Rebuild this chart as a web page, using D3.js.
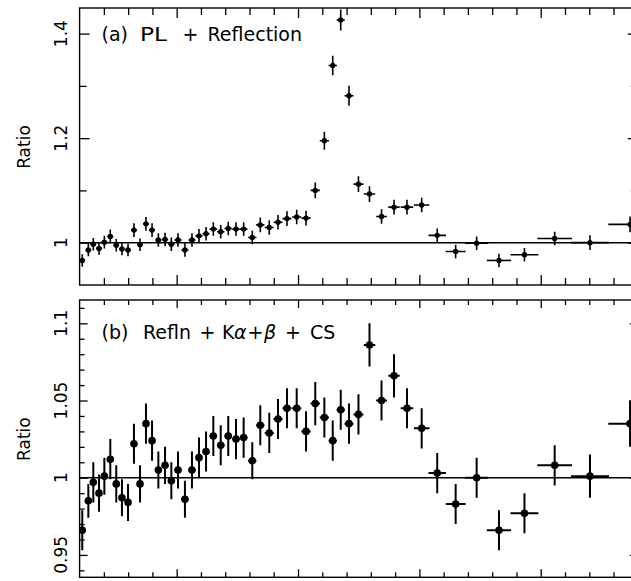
<!DOCTYPE html>
<html>
<head>
<meta charset="utf-8">
<script src="https://cdn.jsdelivr.net/npm/d3@7"></script>
<style>
  body { margin: 0; background: #fff; }
  svg { display: block; }
  text { font-family: "DejaVu Sans", "Liberation Sans", Arial, sans-serif; fill: #000; }
</style>
</head>
<body>
<svg id="chart" width="631" height="581"></svg>
<script>
// Bin centres (keV) and bin half-widths (keV)
const energy = [4.222, 4.272, 4.313, 4.360, 4.404, 4.453, 4.502, 4.549, 4.599, 4.648,
  4.698, 4.747, 4.797, 4.849, 4.904, 4.956, 5.011, 5.068, 5.126, 5.184,
  5.242, 5.302, 5.363, 5.425, 5.489, 5.552, 5.623, 5.689, 5.763, 5.835,
  5.909, 5.989, 6.066, 6.142, 6.217, 6.286, 6.352, 6.420, 6.498, 6.589,
  6.688, 6.791, 6.898, 7.019, 7.147, 7.299, 7.472, 7.656, 7.866, 8.115,
  8.406, 8.736];
const halfWidth = [0.024, 0.024, 0.024, 0.024, 0.024, 0.024, 0.024, 0.024, 0.024, 0.024,
  0.024, 0.024, 0.024, 0.026, 0.026, 0.026, 0.029, 0.029, 0.029, 0.029,
  0.029, 0.031, 0.031, 0.031, 0.031, 0.031, 0.034, 0.034, 0.037, 0.037,
  0.037, 0.038, 0.038, 0.038, 0.038, 0.034, 0.034, 0.037, 0.041, 0.047,
  0.044, 0.047, 0.052, 0.064, 0.072, 0.082, 0.095, 0.100, 0.115, 0.143,
  0.157, 0.179];

// (a) data / power law + reflection
const ratioA = [0.966, 0.986, 0.997, 0.989, 1.001, 1.012, 0.995, 0.988, 0.986, 1.024,
  0.996, 1.036, 1.024, 1.005, 1.006, 0.997, 1.005, 0.986, 1.005, 1.013,
  1.017, 1.026, 1.021, 1.027, 1.026, 1.026, 1.010, 1.034, 1.029, 1.039,
  1.046, 1.049, 1.047, 1.100, 1.195, 1.339, 1.426, 1.281, 1.112, 1.093,
  1.050, 1.068, 1.068, 1.072, 1.014, 0.983, 0.999, 0.966, 0.977, 1.008,
  1.000, 1.035];
const errA = [0.012, 0.012, 0.012, 0.012, 0.012, 0.013, 0.012, 0.012, 0.012, 0.013,
  0.012, 0.013, 0.013, 0.013, 0.013, 0.013, 0.013, 0.013, 0.013, 0.013,
  0.013, 0.013, 0.013, 0.013, 0.013, 0.013, 0.013, 0.014, 0.014, 0.014,
  0.014, 0.014, 0.014, 0.015, 0.017, 0.0185, 0.020, 0.019, 0.015, 0.015,
  0.014, 0.014, 0.014, 0.014, 0.013, 0.013, 0.013, 0.013, 0.013, 0.013,
  0.014, 0.015];

// (b) data / reflection + Fe K alpha/beta + Compton shoulder
const ratioB = [0.966, 0.985, 0.997, 0.990, 1.001, 1.012, 0.996, 0.987, 0.984, 1.022,
  0.996, 1.035, 1.024, 1.005, 1.008, 0.998, 1.005, 0.986, 1.005, 1.013,
  1.017, 1.027, 1.021, 1.027, 1.025, 1.026, 1.011, 1.034, 1.029, 1.038,
  1.045, 1.045, 1.030, 1.048, 1.039, 1.024, 1.044, 1.035, 1.041, 1.086,
  1.050, 1.066, 1.045, 1.032, 1.003, 0.983, 1.000, 0.966, 0.977, 1.008,
  1.001, 1.035];
const errB = [0.013, 0.011, 0.013, 0.012, 0.012, 0.013, 0.012, 0.012, 0.012, 0.013,
  0.012, 0.013, 0.013, 0.012, 0.012, 0.012, 0.012, 0.012, 0.012, 0.013,
  0.013, 0.013, 0.013, 0.013, 0.013, 0.013, 0.012, 0.013, 0.013, 0.013,
  0.013, 0.013, 0.013, 0.014, 0.013, 0.013, 0.013, 0.013, 0.013, 0.014,
  0.013, 0.014, 0.013, 0.013, 0.013, 0.013, 0.013, 0.013, 0.013, 0.013,
  0.014, 0.015];

// Axis ticks
const xMajorTicks = [5, 6, 7, 8];
const xMinorTicks = d3.range(4.4, 8.81, 0.2).map(v => +v.toFixed(1)).filter(v => !xMajorTicks.includes(v));
const yMajorA = [1, 1.2, 1.4];
const yLabelsA = ["1", "1.2", "1.4"];
const yMinorA = [1.1, 1.3];
const yMajorB = [0.95, 1, 1.05, 1.1];
const yLabelsB = ["0.95", "1", "1.05", "1.1"];
const yMinorB = [0.94, 0.96, 0.97, 0.98, 0.99, 1.01, 1.02, 1.03, 1.04, 1.06, 1.07, 1.08, 1.09, 1.11];

const svg = d3.select("#chart");
const x = d3.scaleLinear().domain([4.2, 8.8]).range([79.6, 637.8]);

const panels = [
  {
    id: "a", ratio: ratioA, err: errA,
    y: d3.scaleLinear().domain([0.919, 1.449]).range([285, 8]),
    major: yMajorA, labels: yLabelsA, minor: yMinorA,
    r: 2.7, lw: 1.6, tickMaj: 10, tickMin: 7
  },
  {
    id: "b", ratio: ratioB, err: errB,
    y: d3.scaleLinear().domain([0.9355, 1.1151]).range([577.3, 300]),
    major: yMajorB, labels: yLabelsB, minor: yMinorB,
    r: 3.8, lw: 2, tickMaj: 8, tickMin: 5
  }
];

panels.forEach(p => {
  const [y0, y1] = p.y.range();
  const [x0, x1] = x.range();
  const g = svg.append("g");

  g.append("clipPath").attr("id", "clip-" + p.id)
    .append("rect").attr("x", x0).attr("y", y1).attr("width", x1 - x0).attr("height", y0 - y1);

  // Axis ticks (inward), drawn with d3 axes
  const tickAxis = (axis, scale, vals, size, tx, ty) => {
    const a = g.append("g").attr("transform", `translate(${tx},${ty})`)
      .call(axis(scale).tickValues(vals).tickSize(-size).tickFormat(""));
    a.select(".domain").remove();
    a.selectAll("line").attr("stroke", "#000").attr("stroke-width", 1.3);
  };
  tickAxis(d3.axisBottom, x, xMajorTicks, p.tickMaj, 0, y0);
  tickAxis(d3.axisBottom, x, xMinorTicks, p.tickMin, 0, y0);
  tickAxis(d3.axisTop, x, xMajorTicks, p.tickMaj, 0, y1);
  tickAxis(d3.axisTop, x, xMinorTicks, p.tickMin, 0, y1);
  tickAxis(d3.axisLeft, p.y, p.major, p.tickMaj, x0, 0);
  tickAxis(d3.axisLeft, p.y, p.minor, p.tickMin, x0, 0);
  tickAxis(d3.axisRight, p.y, p.major, p.tickMaj, x1, 0);
  tickAxis(d3.axisRight, p.y, p.minor, p.tickMin, x1, 0);

  // Frame
  g.append("rect").attr("x", x0).attr("y", y1).attr("width", x1 - x0).attr("height", y0 - y1)
    .attr("fill", "none").attr("stroke", "#000").attr("stroke-width", 1.4);

  // Unity line
  g.append("line").attr("x1", x0).attr("x2", x1).attr("y1", p.y(1)).attr("y2", p.y(1))
    .attr("stroke", "#000").attr("stroke-width", 1.5);

  // Tick labels (vertical)
  g.selectAll("text.tl").data(p.major).join("text").attr("class", "tl")
    .attr("transform", d => `translate(66.5,${p.y(d)}) rotate(-90)`)
    .attr("text-anchor", "middle").attr("font-size", 17)
    .text((d, i) => p.labels[i]);

  // Axis title
  g.append("text")
    .attr("transform", `translate(30,${(y0 + y1) / 2 + 0.5}) rotate(-90)`)
    .attr("text-anchor", "middle").attr("font-size", 17).text("Ratio");

  // Data points with error bars
  const pts = g.append("g").attr("clip-path", `url(#clip-${p.id})`);
  const idx = d3.range(energy.length);
  pts.selectAll("line.ex").data(idx).join("line").attr("class", "ex")
    .attr("x1", i => x(energy[i] - halfWidth[i])).attr("x2", i => x(energy[i] + halfWidth[i]))
    .attr("y1", i => p.y(p.ratio[i])).attr("y2", i => p.y(p.ratio[i]))
    .attr("stroke", "#000").attr("stroke-width", p.lw);
  pts.selectAll("line.ey").data(idx).join("line").attr("class", "ey")
    .attr("x1", i => x(energy[i])).attr("x2", i => x(energy[i]))
    .attr("y1", i => p.y(p.ratio[i] - p.err[i])).attr("y2", i => p.y(p.ratio[i] + p.err[i]))
    .attr("stroke", "#000").attr("stroke-width", p.lw);
  pts.selectAll("circle").data(idx).join("circle")
    .attr("cx", i => x(energy[i])).attr("cy", i => p.y(p.ratio[i]))
    .attr("r", p.r).attr("fill", "#000");
});

// Panel titles, each word placed on its own; a given width stretches the glyphs
const titleA = [["(a)", 101.5, 0], ["PL", 140, 27], ["+", 182.5, 0], ["Reflection", 207.5, 0]];
titleA.forEach(([s, px, w]) => {
  const t = svg.append("text").attr("font-size", 19).attr("x", px).attr("y", 41).text(s);
  if (w) t.attr("textLength", w).attr("lengthAdjust", "spacingAndGlyphs");
});

const titleB = [["(b)", 101.5, false], ["Refln", 143, false], ["+", 199.5, false],
  ["K", 222, false], ["α", 234, true], ["+", 247.5, false], ["β", 264, true],
  ["+", 285, false], ["CS", 310, false]];
const tB = svg.append("text").attr("font-size", 19);
titleB.forEach(([s, px, it]) => tB.append("tspan").attr("x", px).attr("y", 338.5)
  .attr("font-style", it ? "italic" : null).text(s));
</script>
</body>
</html>
